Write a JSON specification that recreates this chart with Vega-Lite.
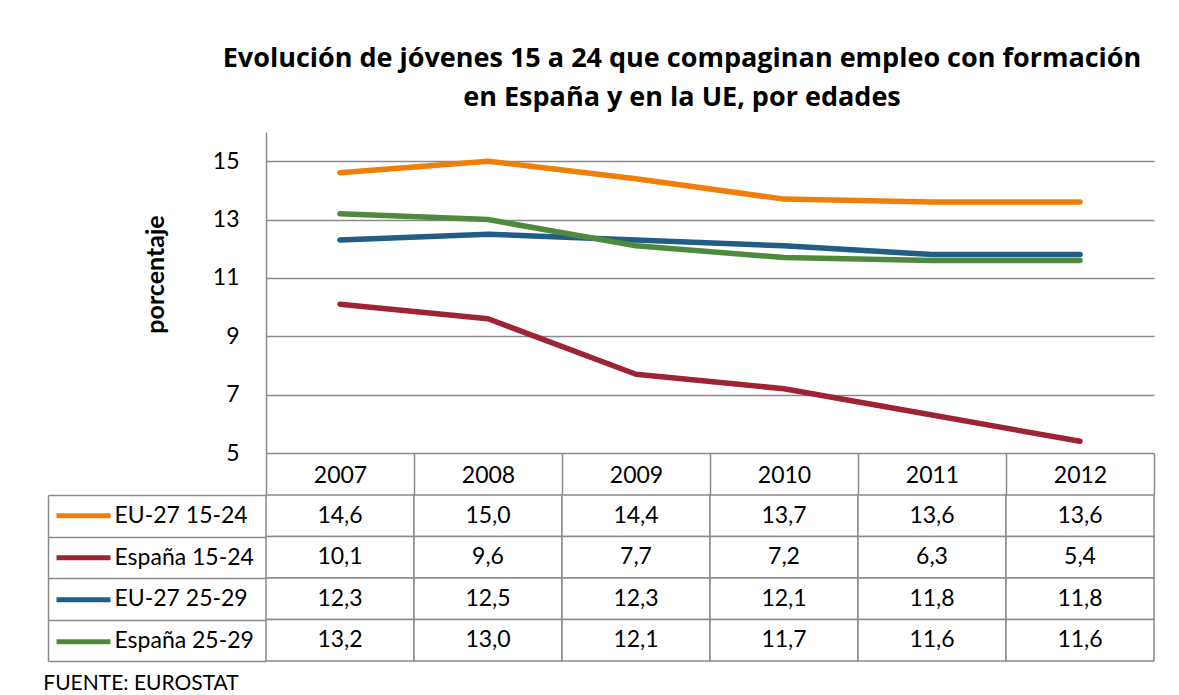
{
  "$schema": "https://vega.github.io/schema/vega-lite/v6.json",
  "padding": {"left": 43, "top": 45, "right": 5, "bottom": 5},
  "background": "white",
  "config": {
    "font": "Lato",
    "locale": {"number": {"decimal": ",", "thousands": ".", "grouping": [3], "currency": ["", " €"]}},
    "view": {"stroke": null},
    "axis": {"labelFont": "Lato", "titleFont": "Lato", "labelColor": "black", "titleColor": "black"},
    "legend": {"labelFont": "Lato", "labelColor": "black"},
    "title": {"font": "Lato", "color": "black"}
  },
  "datasets": {
    "d": [
      {"serie": "EU-27 15-24", "year": "2007", "value": 14.6},
      {"serie": "EU-27 15-24", "year": "2008", "value": 15.0},
      {"serie": "EU-27 15-24", "year": "2009", "value": 14.4},
      {"serie": "EU-27 15-24", "year": "2010", "value": 13.7},
      {"serie": "EU-27 15-24", "year": "2011", "value": 13.6},
      {"serie": "EU-27 15-24", "year": "2012", "value": 13.6},
      {"serie": "España 15-24", "year": "2007", "value": 10.1},
      {"serie": "España 15-24", "year": "2008", "value": 9.6},
      {"serie": "España 15-24", "year": "2009", "value": 7.7},
      {"serie": "España 15-24", "year": "2010", "value": 7.2},
      {"serie": "España 15-24", "year": "2011", "value": 6.3},
      {"serie": "España 15-24", "year": "2012", "value": 5.4},
      {"serie": "EU-27 25-29", "year": "2007", "value": 12.3},
      {"serie": "EU-27 25-29", "year": "2008", "value": 12.5},
      {"serie": "EU-27 25-29", "year": "2009", "value": 12.3},
      {"serie": "EU-27 25-29", "year": "2010", "value": 12.1},
      {"serie": "EU-27 25-29", "year": "2011", "value": 11.8},
      {"serie": "EU-27 25-29", "year": "2012", "value": 11.8},
      {"serie": "España 25-29", "year": "2007", "value": 13.2},
      {"serie": "España 25-29", "year": "2008", "value": 13.0},
      {"serie": "España 25-29", "year": "2009", "value": 12.1},
      {"serie": "España 25-29", "year": "2010", "value": 11.7},
      {"serie": "España 25-29", "year": "2011", "value": 11.6},
      {"serie": "España 25-29", "year": "2012", "value": 11.6}
    ]
  },
  "title": {
    "text": ["Evolución de jóvenes 15 a 24 que compaginan empleo con formación", "en España y en la UE, por edades"],
    "font": "Open Sans",
    "fontSize": 27,
    "fontWeight": "bold",
    "lineHeight": 39,
    "anchor": "middle",
    "offset": 20,
    "dx": 83
  },
  "resolve": {"scale": {"color": "independent"}, "legend": {"color": "independent"}},
  "spacing": -12,
  "vconcat": [
    {
      "width": 888,
      "height": 321,
      "data": {"name": "d"},
      "mark": {"type": "line", "strokeWidth": 5.5, "strokeCap": "round", "strokeJoin": "round"},
      "encoding": {
        "x": {
          "field": "year", "type": "ordinal", "bandPosition": 0.5,
          "scale": {"type": "band", "paddingInner": 0, "paddingOuter": 0},
          "axis": {
            "title": null, "orient": "bottom", "domain": false, "grid": false,
            "ticks": true, "tickBand": "extent", "tickSize": 41, "tickColor": "#8a8a8a", "tickWidth": 1.5,
            "labelAngle": 0, "labelFontSize": 23, "labelBaseline": "middle", "labelPadding": -18.5
          }
        },
        "y": {
          "field": "value", "type": "quantitative",
          "scale": {"domain": [5, 16], "nice": false, "zero": false},
          "axis": {
            "values": [5, 7, 9, 11, 13, 15],
            "title": "porcentaje", "titleFontSize": 25, "titleFontWeight": "bold",
            "titleX": -111, "titleY": 142, "titleBaseline": "middle", "titleAlign": "center", "titleAngle": -90,
            "grid": true, "gridColor": "#8a8a8a", "gridWidth": 1.5,
            "domain": true, "domainColor": "#8a8a8a", "domainWidth": 1.5,
            "ticks": false, "labelPadding": 27, "labelFontSize": 23,
            "minExtent": 218
          }
        },
        "color": {
          "field": "serie", "type": "nominal",
          "scale": {
            "domain": ["EU-27 15-24", "España 15-24", "EU-27 25-29", "España 25-29"],
            "range": ["#F07F0A", "#9E2335", "#215D84", "#4E8A3D"]
          },
          "legend": null
        }
      }
    },
    {
      "width": 888,
      "height": 166,
      "data": {"name": "d"},
      "title": {
        "text": "FUENTE: EUROSTAT", "orient": "bottom", "anchor": "start",
        "fontSize": 21, "fontWeight": "normal", "offset": 10, "dx": -4
      },
      "encoding": {
        "x": {"field": "year", "type": "ordinal", "scale": {"type": "band", "paddingInner": 0, "paddingOuter": 0}, "axis": null},
        "y": {
          "field": "serie", "type": "nominal",
          "scale": {"domain": ["EU-27 15-24", "España 15-24", "EU-27 25-29", "España 25-29"], "paddingInner": 0, "paddingOuter": 0},
          "axis": {
            "title": null, "orient": "left", "offset": 218,
            "domain": true, "domainColor": "#8a8a8a", "domainWidth": 1.5,
            "ticks": true, "tickBand": "extent", "tickSize": -218, "tickColor": "#8a8a8a", "tickWidth": 1.5,
            "labels": true, "labelAlign": "left", "labelPadding": 152, "labelFontSize": 23, "labelLimit": 0
          }
        }
      },
      "layer": [
        {"mark": {"type": "rect", "fill": "white", "stroke": "#8a8a8a", "strokeWidth": 1.5}},
        {
          "mark": {"type": "text", "fontSize": 23, "color": "black", "baseline": "middle"},
          "encoding": {
            "x": {"field": "year", "type": "ordinal", "bandPosition": 0.5},
            "text": {"field": "value", "type": "quantitative", "format": ".1f"}
          }
        },
        {
          "transform": [{"filter": "datum.year == '2007'"}],
          "mark": {"type": "point", "opacity": 0},
          "encoding": {
            "color": {
              "field": "serie", "type": "nominal",
              "scale": {
                "domain": ["EU-27 15-24", "España 15-24", "EU-27 25-29", "España 25-29"],
                "range": ["#F07F0A", "#9E2335", "#215D84", "#4E8A3D"]
              },
              "legend": {
                "title": null, "orient": "left", "offset": -65.5, "padding": 0,
                "symbolType": "stroke", "symbolSize": 2916, "symbolStrokeWidth": 5, "symbolOpacity": 1,
                "labelExpr": "''", "labelOffset": 0, "labelFontSize": 23,
                "rowPadding": 0, "clipHeight": 41.5
              }
            }
          }
        }
      ]
    }
  ]
}
